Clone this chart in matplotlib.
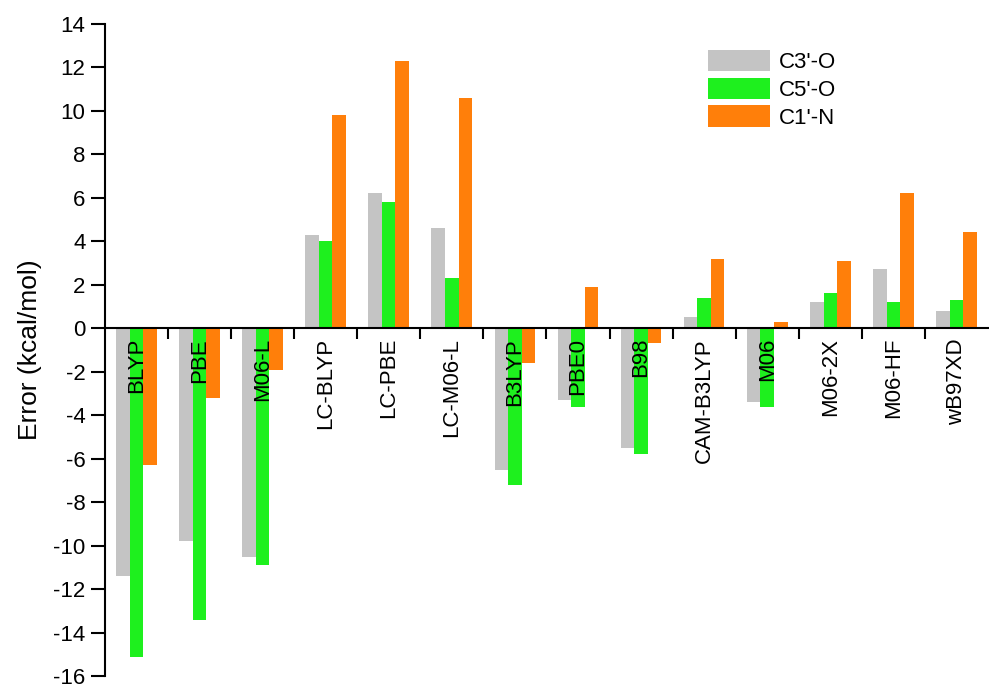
import numpy as np
import matplotlib.pyplot as plt

functionals = ['BLYP', 'PBE', 'M06-L', 'LC-BLYP', 'LC-PBE', 'LC-M06-L', 'B3LYP',
               'PBE0', 'B98', 'CAM-B3LYP', 'M06', 'M06-2X', 'M06-HF', 'wB97XD']
c3_o = [-11.4, -9.8, -10.5, 4.3, 6.2, 4.6, -6.5, -3.3, -5.5, 0.5, -3.4, 1.2, 2.7, 0.8]
c5_o = [-15.1, -13.4, -10.9, 4.0, 5.8, 2.3, -7.2, -3.6, -5.8, 1.4, -3.6, 1.6, 1.2, 1.3]
c1_n = [-6.3, -3.2, -1.9, 9.8, 12.3, 10.6, -1.6, 1.9, -0.7, 3.2, 0.3, 3.1, 6.2, 4.4]

plt.rcParams['font.family'] = ['Liberation Sans', 'DejaVu Sans']
plt.rcParams['axes.unicode_minus'] = False

fig = plt.figure(figsize=(9.89, 6.93), dpi=100)
ax = fig.add_axes([0.106, 0.024, 0.893, 0.942])

x = np.arange(len(functionals))
w = 0.215
ax.bar(x - w, c3_o, w, color='#c4c4c4', label="C3'-O")
ax.bar(x, c5_o, w, color='#1ef01e', label="C5'-O")
ax.bar(x + w, c1_n, w, color='#ff7f0a', label="C1'-N")

ax.set_xlim(-0.5, len(functionals) - 0.5)
ax.set_ylim(-16, 14)
ax.set_yticks(np.arange(-16, 15, 2))
ax.tick_params(axis='y', direction='out', length=10, width=1.5, labelsize=16, pad=4)

# x axis sits on zero; ticks mark the boundaries between groups
ax.spines['bottom'].set_position(('data', 0))
ax.spines['bottom'].set_linewidth(1.5)
ax.spines['left'].set_linewidth(1.5)
ax.spines['top'].set_visible(False)
ax.spines['right'].set_visible(False)
ax.set_xticks(x[:-1] + 0.5)
ax.set_xticklabels([])
ax.tick_params(axis='x', direction='out', length=8, width=1.5)

for xi, name in zip(x, functionals):
    ax.text(xi, -0.45, name, rotation=90, ha='center', va='top', fontsize=16)

ax.set_ylabel('Error (kcal/mol)', fontsize=19, labelpad=8)

ax.legend(loc='upper left', bbox_to_anchor=(0.66, 0.99), frameon=False, fontsize=16,
          handlelength=2.8, handleheight=1.1, labelspacing=0.2, handletextpad=0.4)

fig.savefig('out.png', dpi=100)
